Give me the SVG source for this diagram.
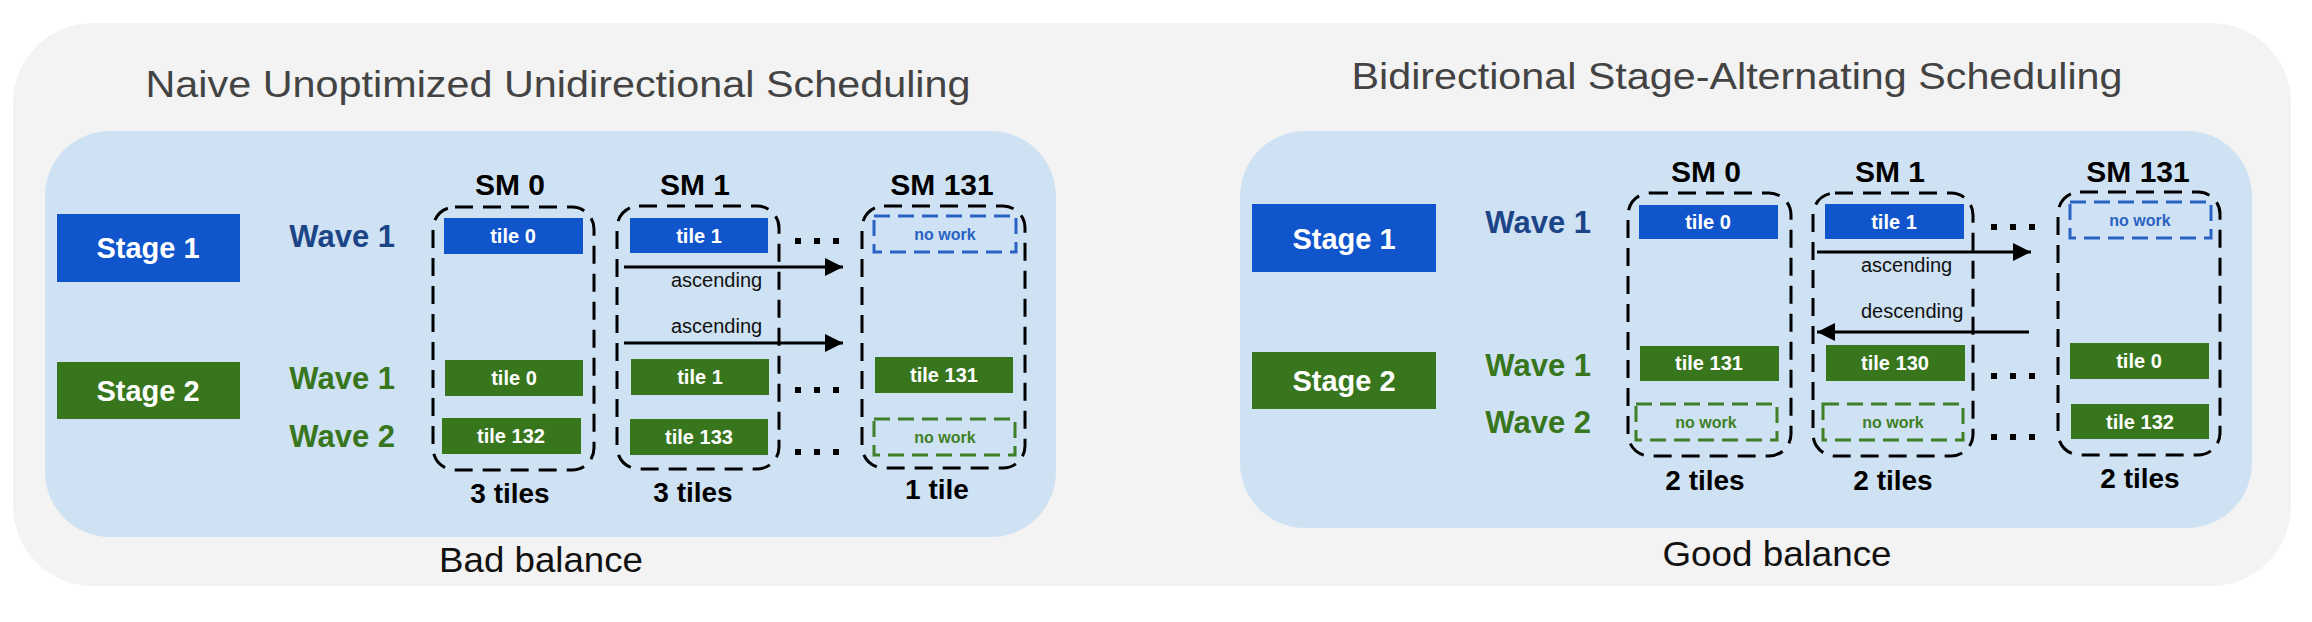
<svg xmlns="http://www.w3.org/2000/svg" width="2312" height="622" viewBox="0 0 2312 622">
<defs>
<style>
text{font-family:"Liberation Sans",Arial,sans-serif}
.title{font-size:37px;fill:#434343;text-anchor:middle}
.balance{font-size:35px;fill:#111;text-anchor:middle}
.stage{font-size:29px;font-weight:bold;fill:#fff;text-anchor:middle}
.wave{font-size:31px;font-weight:bold;text-anchor:end}
.wb{fill:#1c4587}
.wg{fill:#38761d}
.sm{font-size:30px;font-weight:bold;fill:#000;text-anchor:middle}
.cnt{font-size:28px;font-weight:bold;fill:#000;text-anchor:middle}
.tile{font-size:20px;font-weight:bold;fill:#fff;text-anchor:middle}
.nw{font-size:16px;font-weight:bold;text-anchor:middle}
.nwb{fill:#2a62c4}
.nwg{fill:#3f7f26}
.lbl{font-size:20px;fill:#111}
.bt{fill:#1155cc}
.gt{fill:#38761d}
.smbox{fill:none;stroke:#000;stroke-width:3;stroke-dasharray:18 10}
.dashb{fill:none;stroke:#2a62c4;stroke-width:3;stroke-dasharray:16 8}
.dashg{fill:none;stroke:#3f7f26;stroke-width:3;stroke-dasharray:16 8}
.arr{stroke:#000;stroke-width:3;fill:none}
.dot{fill:#000}
</style>
<marker id="ah" viewBox="0 0 10 10" refX="10" refY="5" markerWidth="7" markerHeight="6" markerUnits="strokeWidth" orient="auto">
<path d="M0,0 L10,5 L0,10 z" fill="#000"/>
</marker>
</defs>

<rect id="outer" x="13" y="23" width="2278" height="563" rx="80" fill="#f3f3f3"/>

<!-- LEFT PANEL -->
<g id="left-panel">
<rect x="45" y="131" width="1011" height="406" rx="65" fill="#cfe2f3"/>
<text class="title" x="558" y="97" textLength="825" lengthAdjust="spacingAndGlyphs">Naive Unoptimized Unidirectional Scheduling</text>
<text class="balance" x="541" y="572" textLength="204" lengthAdjust="spacingAndGlyphs">Bad balance</text>
</g>

<g id="L-stage1"><rect class="bt" x="57" y="214" width="183" height="68"/><text class="stage" x="148" y="258">Stage 1</text></g>
<g id="L-stage2"><rect class="gt" x="57" y="362" width="183" height="57"/><text class="stage" x="148" y="401">Stage 2</text></g>
<g id="L-waves">
<text class="wave wb" x="395" y="247">Wave 1</text>
<text class="wave wg" x="395" y="389">Wave 1</text>
<text class="wave wg" x="395" y="447">Wave 2</text>
</g>

<g id="L-sm0">
<text class="sm" x="510" y="195">SM 0</text>
<rect class="smbox" x="433" y="207" width="161" height="263" rx="22"/>
<rect class="bt" x="444" y="218" width="139" height="36"/><text class="tile" x="513" y="243">tile 0</text>
<rect class="gt" x="445" y="360" width="138" height="36"/><text class="tile" x="514" y="385">tile 0</text>
<rect class="gt" x="442" y="418" width="139" height="36"/><text class="tile" x="511" y="443">tile 132</text>
<text class="cnt" x="510" y="503">3 tiles</text>
</g>

<g id="L-sm1">
<text class="sm" x="695" y="195">SM 1</text>
<rect class="smbox" x="617" y="206" width="162" height="263" rx="22"/>
<rect class="bt" x="630" y="218" width="138" height="35"/><text class="tile" x="699" y="243">tile 1</text>
<rect class="gt" x="631" y="359" width="138" height="36"/><text class="tile" x="700" y="384">tile 1</text>
<rect class="gt" x="630" y="419" width="138" height="36"/><text class="tile" x="699" y="444">tile 133</text>
<text class="cnt" x="693" y="502">3 tiles</text>
</g>

<g id="L-sm131">
<text class="sm" x="942" y="195">SM 131</text>
<rect class="smbox" x="862" y="206" width="163" height="262" rx="22"/>
<rect class="dashb" x="874" y="216" width="142" height="36"/><text class="nw nwb" x="945" y="240">no work</text>
<rect class="gt" x="875" y="357" width="138" height="36"/><text class="tile" x="944" y="382">tile 131</text>
<rect class="dashg" x="874" y="419" width="141" height="36"/><text class="nw nwg" x="945" y="443">no work</text>
<text class="cnt" x="937" y="499">1 tile</text>
</g>

<g id="L-dots">
<rect class="dot" x="795" y="238" width="6" height="6"/><rect class="dot" x="814" y="238" width="6" height="6"/><rect class="dot" x="833" y="238" width="6" height="6"/>
<rect class="dot" x="795" y="387" width="6" height="6"/><rect class="dot" x="814" y="387" width="6" height="6"/><rect class="dot" x="833" y="387" width="6" height="6"/>
<rect class="dot" x="795" y="449" width="6" height="6"/><rect class="dot" x="814" y="449" width="6" height="6"/><rect class="dot" x="833" y="449" width="6" height="6"/>
</g>

<!-- RIGHT PANEL -->
<g id="right-panel">
<rect x="1240" y="131" width="1012" height="397" rx="65" fill="#cfe2f3"/>
<text class="title" x="1737" y="89" textLength="771" lengthAdjust="spacingAndGlyphs">Bidirectional Stage-Alternating Scheduling</text>
<text class="balance" x="1777" y="566" textLength="229" lengthAdjust="spacingAndGlyphs">Good balance</text>
</g>

<g id="R-stage1"><rect class="bt" x="1252" y="204" width="184" height="68"/><text class="stage" x="1344" y="249">Stage 1</text></g>
<g id="R-stage2"><rect class="gt" x="1252" y="352" width="184" height="57"/><text class="stage" x="1344" y="391">Stage 2</text></g>
<g id="R-waves">
<text class="wave wb" x="1591" y="233">Wave 1</text>
<text class="wave wg" x="1591" y="376">Wave 1</text>
<text class="wave wg" x="1591" y="433">Wave 2</text>
</g>

<g id="R-sm0">
<text class="sm" x="1706" y="182">SM 0</text>
<rect class="smbox" x="1628" y="193" width="163" height="263" rx="22"/>
<rect class="bt" x="1639" y="205" width="139" height="34"/><text class="tile" x="1708" y="229">tile 0</text>
<rect class="gt" x="1640" y="346" width="139" height="35"/><text class="tile" x="1709" y="370">tile 131</text>
<rect class="dashg" x="1636" y="404" width="141" height="36"/><text class="nw nwg" x="1706" y="428">no work</text>
<text class="cnt" x="1705" y="490">2 tiles</text>
</g>

<g id="R-sm1">
<text class="sm" x="1890" y="182">SM 1</text>
<rect class="smbox" x="1813" y="193" width="160" height="263" rx="22"/>
<rect class="bt" x="1825" y="204" width="139" height="35"/><text class="tile" x="1894" y="229">tile 1</text>
<rect class="gt" x="1826" y="345" width="139" height="36"/><text class="tile" x="1895" y="370">tile 130</text>
<rect class="dashg" x="1823" y="404" width="140" height="36"/><text class="nw nwg" x="1893" y="428">no work</text>
<text class="cnt" x="1893" y="490">2 tiles</text>
</g>

<g id="R-sm131">
<text class="sm" x="2138" y="182">SM 131</text>
<rect class="smbox" x="2058" y="192" width="162" height="263" rx="22"/>
<rect class="dashb" x="2070" y="202" width="141" height="36"/><text class="nw nwb" x="2140" y="226">no work</text>
<rect class="gt" x="2070" y="343" width="139" height="36"/><text class="tile" x="2139" y="368">tile 0</text>
<rect class="gt" x="2071" y="404" width="138" height="35"/><text class="tile" x="2140" y="429">tile 132</text>
<text class="cnt" x="2140" y="488">2 tiles</text>
</g>

<g id="R-dots">
<rect class="dot" x="1991" y="224" width="6" height="6"/><rect class="dot" x="2010" y="224" width="6" height="6"/><rect class="dot" x="2029" y="224" width="6" height="6"/>
<rect class="dot" x="1991" y="373" width="6" height="6"/><rect class="dot" x="2010" y="373" width="6" height="6"/><rect class="dot" x="2029" y="373" width="6" height="6"/>
<rect class="dot" x="1991" y="434" width="6" height="6"/><rect class="dot" x="2010" y="434" width="6" height="6"/><rect class="dot" x="2029" y="434" width="6" height="6"/>
</g>

<g id="connectors">
<line class="arr" x1="624" y1="267" x2="843" y2="267" marker-end="url(#ah)"/>
<text class="lbl" x="671" y="287">ascending</text>
<line class="arr" x1="624" y1="343" x2="843" y2="343" marker-end="url(#ah)"/>
<text class="lbl" x="671" y="333">ascending</text>
<line class="arr" x1="1817" y1="252" x2="2031" y2="252" marker-end="url(#ah)"/>
<text class="lbl" x="1861" y="272">ascending</text>
<line class="arr" x1="2029" y1="332" x2="1817" y2="332" marker-end="url(#ah)"/>
<text class="lbl" x="1861" y="318">descending</text>
</g>
</svg>
